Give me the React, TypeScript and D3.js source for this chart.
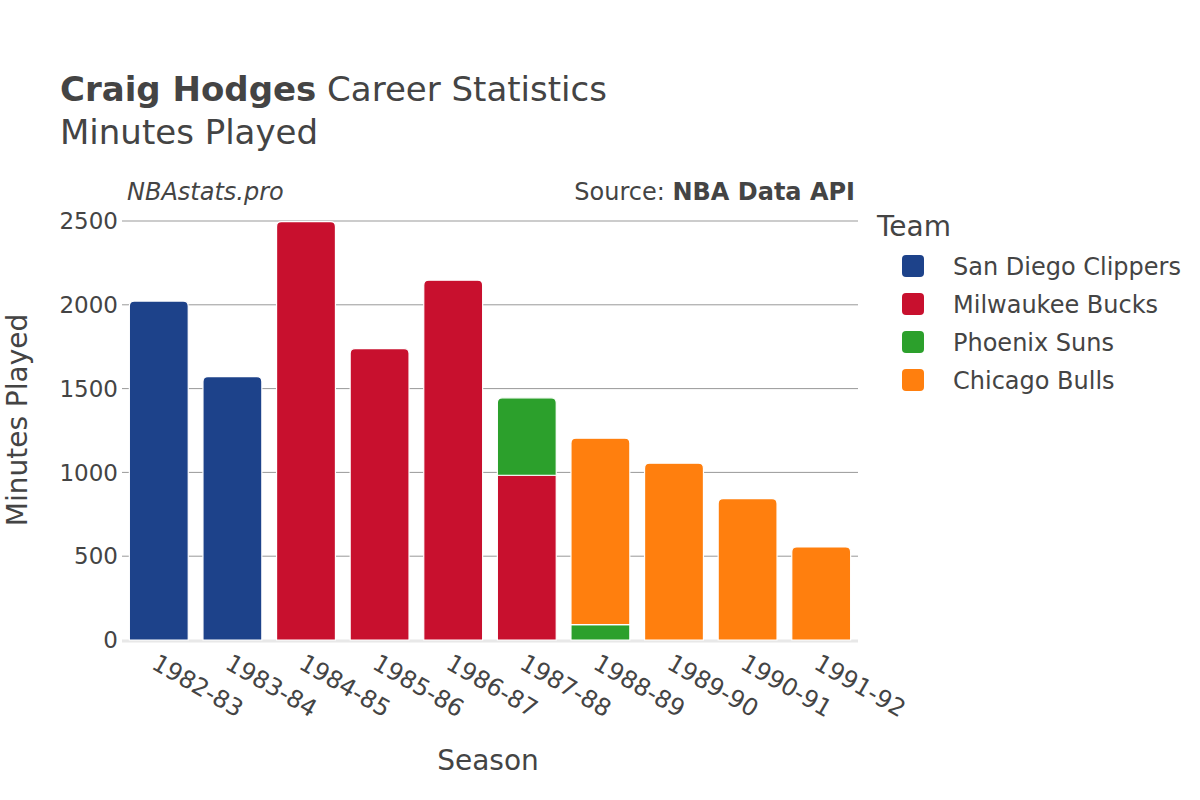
import React, { useEffect, useRef } from 'react';
import * as d3 from 'd3';

const seasons = ['1982-83', '1983-84', '1984-85', '1985-86', '1986-87', '1987-88', '1988-89', '1989-90', '1990-91', '1991-92'];
const teams = ['San Diego Clippers', 'Milwaukee Bucks', 'Phoenix Suns', 'Chicago Bulls'];
const teamColors = ['#1d428a', '#c8102e', '#2ca02c', '#ff7f0e'];

// minutes per season, one array per team
const clippersMin = [2022, 1571, 0, 0, 0, 0, 0, 0, 0, 0];
const bucksMin = [0, 0, 2496, 1739, 2147, 983, 0, 0, 0, 0];
const sunsMin = [0, 0, 0, 0, 0, 462, 92, 0, 0, 0];
const bullsMin = [0, 0, 0, 0, 0, 0, 1112, 1055, 843, 555];

const yTicks = [0, 500, 1000, 1500, 2000, 2500];

const FONT = '"DejaVu Sans", sans-serif';
const TEXT = '#444';

const App: React.FC = () => {
  const svgRef = useRef<SVGSVGElement>(null);

  useEffect(() => {
    if (!svgRef.current) return;
    const svg = d3.select(svgRef.current);
    svg.selectAll('*').remove();

    const margin = { top: 221, left: 122, right: 342, bottom: 160 };
    const width = 1200 - margin.left - margin.right;
    const height = 800 - margin.top - margin.bottom;

    const rows = seasons.map((s, i) => ({
      season: s,
      [teams[0]]: clippersMin[i],
      [teams[1]]: bucksMin[i],
      [teams[2]]: sunsMin[i],
      [teams[3]]: bullsMin[i],
    })) as any[];

    const stacked = d3.stack<any>().keys(teams)(rows);

    const x = d3.scaleBand().domain(seasons).range([0, width]).paddingInner(0.2).paddingOuter(0.1);
    const y = d3.scaleLinear().domain([0, 2500]).range([height, 0]);
    const color = d3.scaleOrdinal<string>().domain(teams).range(teamColors);

    // titles
    const title = svg.append('text').attr('x', 60).attr('y', 101)
      .style('font-family', FONT).style('font-size', '34px').style('fill', TEXT);
    title.append('tspan').style('font-weight', 'bold').text('Craig Hodges');
    title.append('tspan').text(' Career Statistics');
    svg.append('text').attr('x', 60).attr('y', 144)
      .style('font-family', FONT).style('font-size', '34px').style('fill', TEXT)
      .text('Minutes Played');

    svg.append('text').attr('x', 127).attr('y', 200)
      .style('font-family', FONT).style('font-size', '24px').style('font-style', 'italic').style('fill', TEXT)
      .text('NBAstats.pro');
    const src = svg.append('text').attr('x', 855).attr('y', 200).attr('text-anchor', 'end')
      .style('font-family', FONT).style('font-size', '24px').style('fill', TEXT);
    src.append('tspan').text('Source: ');
    src.append('tspan').style('font-weight', 'bold').text('NBA Data API');

    const g = svg.append('g').attr('transform', `translate(${margin.left},${margin.top})`);

    // grid
    g.selectAll('.grid').data(yTicks.filter(t => t > 0)).enter().append('line')
      .attr('x1', 0).attr('x2', width)
      .attr('y1', d => y(d)).attr('y2', d => y(d))
      .attr('stroke', '#999').attr('stroke-width', 1);
    g.append('line').attr('x1', 0).attr('x2', width).attr('y1', y(0) + 1).attr('y2', y(0) + 1)
      .attr('stroke', '#e8e8e8').attr('stroke-width', 3);

    // y tick labels
    g.selectAll('.ylab').data(yTicks).enter().append('text')
      .attr('x', -4).attr('y', d => y(d)).attr('dy', '0.36em').attr('text-anchor', 'end')
      .style('font-family', FONT).style('font-size', '23px').style('fill', TEXT)
      .text(d => String(d));

    // bars
    const r = 5;
    const topKey = (i: number) => {
      let k = -1;
      teams.forEach((t, j) => { if (rows[i][t] > 0) k = j; });
      return k;
    };
    stacked.forEach((layer, li) => {
      layer.forEach((d, i) => {
        if (d[1] - d[0] <= 0) return;
        const x0 = x(seasons[i])!;
        const w = x.bandwidth();
        const yt = y(d[1]);
        const yb = y(d[0]);
        const isTop = topKey(i) === li;
        const path = isTop
          ? `M${x0},${yb}V${yt + r}Q${x0},${yt} ${x0 + r},${yt}H${x0 + w - r}Q${x0 + w},${yt} ${x0 + w},${yt + r}V${yb}Z`
          : `M${x0},${yb}V${yt}H${x0 + w}V${yb}Z`;
        g.append('path').attr('d', path)
          .attr('fill', color(teams[li]))
          .attr('stroke', '#fff').attr('stroke-width', 1.2);
      });
    });

    // x tick labels
    g.selectAll('.xlab').data(seasons).enter().append('text')
      .attr('transform', d => `translate(${x(d)! + x.bandwidth() / 2 + 1},${height + 11}) rotate(30)`)
      .attr('dy', '0.8em')
      .style('font-family', FONT).style('font-size', '24px').style('fill', TEXT)
      .text(d => d);

    // axis titles
    svg.append('text').attr('x', margin.left + width / 2 - 2).attr('y', 770).attr('text-anchor', 'middle')
      .style('font-family', FONT).style('font-size', '28px').style('fill', TEXT).text('Season');
    svg.append('text').attr('transform', `translate(27,420) rotate(-90)`)
      .attr('text-anchor', 'middle')
      .style('font-family', FONT).style('font-size', '28px').style('fill', TEXT).text('Minutes Played');

    // legend
    svg.append('text').attr('x', 877).attr('y', 236)
      .style('font-family', FONT).style('font-size', '28px').style('fill', TEXT).text('Team');
    const leg = svg.selectAll('.leg').data(teams).enter().append('g')
      .attr('transform', (d, i) => `translate(902,${266 + i * 38})`);
    leg.append('rect').attr('x', 0).attr('y', -11).attr('width', 22).attr('height', 22).attr('rx', 4)
      .attr('fill', d => color(d));
    leg.append('text').attr('x', 51).attr('y', 0).attr('dy', '0.36em')
      .style('font-family', FONT).style('font-size', '24px').style('fill', TEXT).text(d => d);
  }, []);

  return <svg ref={svgRef} width={1200} height={800} style={{ display: 'block', position: 'absolute', left: 0, top: 0 }} />;
};

export default App;
